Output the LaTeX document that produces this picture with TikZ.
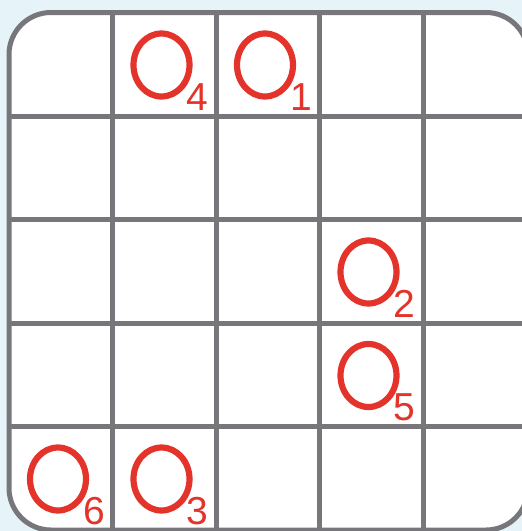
\documentclass[tikz,border=0pt]{standalone}
\usepackage{fontspec}
\setmainfont{Liberation Sans}
\usetikzlibrary{shapes.geometric}
\definecolor{bgblue}{HTML}{E6F3F8}
\definecolor{gridgray}{HTML}{77777B}
\definecolor{ringred}{HTML}{E3332A}
\tikzset{
  ring/.style={ellipse, draw=ringred, line width=6.2pt, minimum width=56pt, minimum height=63pt, inner sep=0pt},
  digit/.style={anchor=base west, inner sep=0pt, text=ringred, font=\fontsize{39}{39}\selectfont},
  gridline/.style={draw=gridgray, line width=5pt},
}
\begin{document}
\begin{tikzpicture}[x=1pt,y=-1pt]
\useasboundingbox (0,0) rectangle (522,531);
\fill[bgblue] (0,0) rectangle (522,531);
\draw[gridline, fill=white, rounded corners=42pt] (9,12.5) rectangle (528,530);
% interior grid lines
\foreach \i in {1,2,3,4} {
  \draw[gridline] ({9+103.5*\i},12.5) -- ({9+103.5*\i},530);
  \draw[gridline] (9,{12.5+103.5*\i}) -- (528,{12.5+103.5*\i});
}
% rings with numbers: col,row,number
\foreach \c/\r/\n in {1/0/4, 2/0/1, 3/2/2, 3/3/5, 0/4/6, 1/4/3} {
  \node[ring] (ring\n) at ({9+103.5*\c+49},{12.5+103.5*\r+52.5}) {};
  \node[digit] (num\n) at ({9+103.5*\c+49+25},{12.5+103.5*\r+52.5+45}) {\n};
}
\end{tikzpicture}
\end{document}
